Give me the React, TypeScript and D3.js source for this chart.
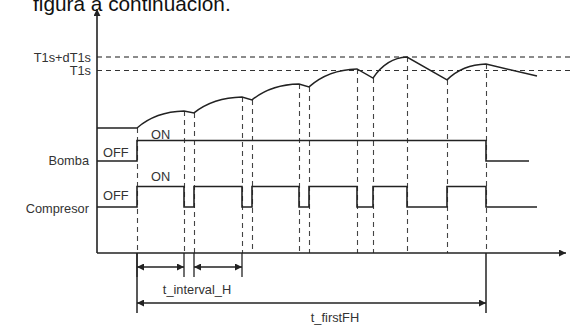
import React from "react";
import * as d3 from "d3";

const titleText = "figura a continuación.";
const levelLabels = ["T1s+dT1s", "T1s"];
const levelValues = [50, 45];
const signalNames = ["Bomba", "Compresor"];

// temperature trace (time units, temperature)
const tempTimes = [0, 4, 8.7, 9.7, 14.5, 15.5, 20.2, 21.2, 26, 27.6, 31, 35, 38.9, 44];
const tempValues = [22.7, 22.7, 29.2, 28.5, 34.6, 33.5, 39.6, 38.5, 45.4, 41.9, 50, 41.2, 47.3, 42.7];

// compressor switching
const compTimes = [0, 4, 8.7, 9.7, 14.5, 15.5, 20.2, 21.2, 26, 27.6, 31, 35, 38.9, 44];
const compStates = [0, 1, 0, 1, 0, 1, 0, 1, 0, 1, 0, 1, 0];

// pump switching
const pumpTimes = [0, 4, 38.9, 43.2];
const pumpStates = [0, 1, 0];

const markerTimes = [4, 8.7, 9.7, 14.5, 15.5, 20.2, 21.2, 26, 27.6, 31, 35, 38.9];

const intervalLabel = "t_interval_H";
const intervalSpans = [[4, 8.7], [9.7, 14.5]];
const firstLabel = "t_firstFH";
const firstSpan = [4, 38.9];

const W = 572;
const H = 325;
const FONT = "'Liberation Sans', Arial, sans-serif";
const INK = "#222";

export default function App() {
  const x = d3.scaleLinear().domain([0, 47]).range([97, 567]);
  const yT = d3.scaleLinear().domain([20, 50]).range([135, 57]);
  const rowBase = d3.scalePoint<string>().domain(signalNames).range([161, 207]);
  const levelH = 20.5;
  const axisY = 253;
  const axisX = 97;

  // temperature path
  const p = d3.path();
  p.moveTo(x(tempTimes[0]), yT(tempValues[0]));
  for (let i = 1; i < tempTimes.length; i++) {
    const x0 = x(tempTimes[i - 1]);
    const y0 = yT(tempValues[i - 1]);
    const x1 = x(tempTimes[i]);
    const y1 = yT(tempValues[i]);
    const idx = d3.bisectRight(compTimes, tempTimes[i - 1]) - 1;
    const heating = compStates[idx] === 1 && tempValues[i] > tempValues[i - 1];
    if (heating) {
      p.quadraticCurveTo(x0 + 0.4 * (x1 - x0), y1 + 0.04 * (y0 - y1), x1, y1);
    } else {
      p.lineTo(x1, y1);
    }
  }

  const stepPath = (times: number[], states: number[], name: string) => {
    const base = rowBase(name)!;
    const yy = (s: number) => base - s * levelH;
    const sp = d3.path();
    sp.moveTo(x(times[0]), yy(states[0]));
    for (let i = 0; i < states.length; i++) {
      if (i > 0) sp.lineTo(x(times[i]), yy(states[i]));
      sp.lineTo(x(times[i + 1]), yy(states[i]));
    }
    return sp.toString();
  };

  const tempAt = (t: number) => {
    const i = tempTimes.indexOf(t);
    return i >= 0 ? tempValues[i] : tempValues[0];
  };

  const dimY1 = 267;
  const dimY2 = 303;

  return (
    <svg
      width={W}
      height={H}
      style={{ position: "absolute", left: 0, top: 0, background: "#fff" }}
      fontFamily={FONT}
    >
      <defs>
        <marker id="ah" viewBox="0 0 10 10" refX="10" refY="5" markerWidth="9" markerHeight="7"
          markerUnits="userSpaceOnUse" orient="auto-start-reverse">
          <path d="M0,0 L10,5 L0,10 z" fill={INK} />
        </marker>
      </defs>

      <text x={33} y={11} fontSize={20.8} fill="#111">{titleText}</text>

      {levelValues.map((v, i) => (
        <g key={i}>
          <line x1={axisX} x2={W} y1={yT(v) + (i === 0 ? 0 : 0.5)} y2={yT(v) + (i === 0 ? 0 : 0.5)}
            stroke={i === 0 ? "#666" : "#333"} strokeWidth={i === 0 ? 1.6 : 1.1} strokeDasharray="5,4" />
          <text x={91} y={yT(v)} dy="0.36em" textAnchor="end" fontSize={12.8} fill="#333">{levelLabels[i]}</text>
        </g>
      ))}

      {markerTimes.map((t, i) => (
        <line key={i} x1={Math.round(x(t)) + 0.5} x2={Math.round(x(t)) + 0.5}
          y1={yT(tempAt(t))} y2={axisY} stroke="#444" strokeWidth={1.1} strokeDasharray="5,4" />
      ))}

      <line x1={axisX} x2={axisX} y1={axisY} y2={9} stroke={INK} strokeWidth={1.6} markerEnd="url(#ah)" />
      <line x1={axisX} x2={566} y1={axisY} y2={axisY} stroke={INK} strokeWidth={1.6} markerEnd="url(#ah)" />

      <path d={p.toString()} fill="none" stroke={INK} strokeWidth={1.5} />

      <path d={stepPath(pumpTimes, pumpStates, "Bomba")} fill="none" stroke={INK} strokeWidth={1.6} />
      <path d={stepPath(compTimes, compStates, "Compresor")} fill="none" stroke={INK} strokeWidth={1.6} />

      {signalNames.map((n, i) => (
        <g key={n} fontSize={12.8} fill="#333">
          <text x={89} y={rowBase(n)! + (i === 0 ? 4 : 6)} textAnchor="end">{n}</text>
          <text x={103} y={rowBase(n)! - (i === 0 ? 4 : 7)}>OFF</text>
          <text x={151} y={rowBase(n)! - levelH - (i === 0 ? 1.5 : 5.5)}>ON</text>
        </g>
      ))}

      {intervalSpans.flat().map((t, i) => (
        <line key={i} x1={x(t)} x2={x(t)} y1={axisY} y2={277} stroke={INK} strokeWidth={1.3} />
      ))}
      {firstSpan.map((t, i) => (
        <line key={"f" + i} x1={x(t)} x2={x(t)} y1={axisY} y2={313} stroke={INK} strokeWidth={1.5} />
      ))}

      {intervalSpans.map((s, i) => (
        <line key={"ia" + i} x1={x(s[0])} x2={x(s[1])} y1={dimY1} y2={dimY1} stroke={INK} strokeWidth={1.4}
          markerStart="url(#ah)" markerEnd="url(#ah)" />
      ))}
      <text x={197} y={294} textAnchor="middle" fontSize={12.8} fill="#333">{intervalLabel}</text>

      <line x1={x(firstSpan[0])} x2={x(firstSpan[1])} y1={dimY2} y2={dimY2} stroke={INK} strokeWidth={1.4}
        markerStart="url(#ah)" markerEnd="url(#ah)" />
      <text x={335} y={322} textAnchor="middle" fontSize={12.8} fill="#333">{firstLabel}</text>
    </svg>
  );
}
